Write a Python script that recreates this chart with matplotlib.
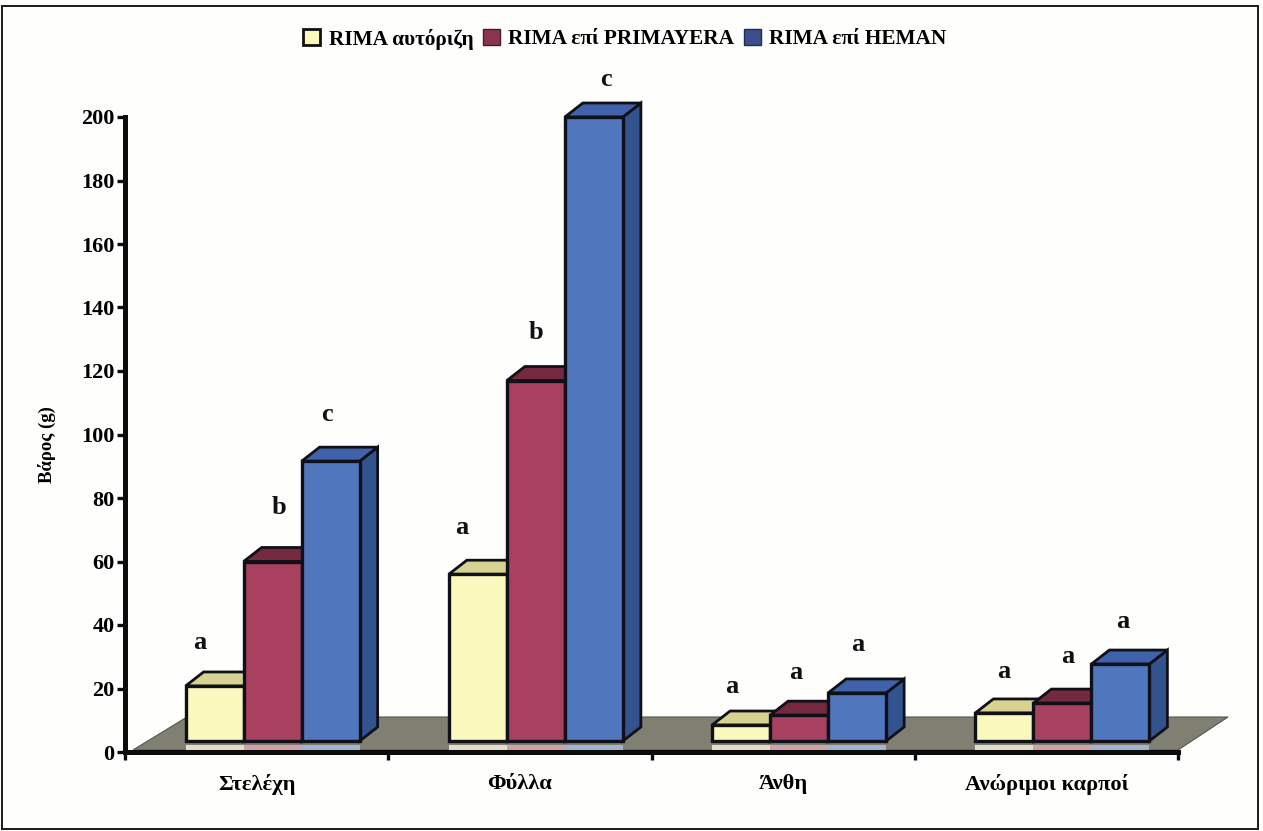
import matplotlib
matplotlib.use("Agg")
import matplotlib.pyplot as plt
from matplotlib.patches import Polygon, Rectangle, Patch

plt.rcParams['font.family'] = ['Liberation Serif', 'DejaVu Serif']
plt.rcParams['font.weight'] = 'bold'

categories = ['Στελέχη', 'Φύλλα', 'Άνθη', 'Ανώριμοι καρποί']
series_names = ['RIMA αυτόριζη', 'RIMA επί PRIMAYERA', 'RIMA επί HEMAN']
autoriza = [20.8, 56, 8.5, 12.3]
primavera = [60, 117, 11.6, 15.4]
heman = [91.6, 200, 18.6, 27.7]
letters_autoriza = ['a', 'a', 'a', 'a']
letters_primavera = ['b', 'b', 'a', 'a']
letters_heman = ['c', 'c', 'a', 'a']
y_ticks = [0, 20, 40, 60, 80, 100, 120, 140, 160, 180, 200]

W, H = 1263, 831
LEFT, RIGHT, BOTTOM, TOP = 125, 1178, 752, 117
fig = plt.figure(figsize=(W / 100, H / 100), dpi=100, facecolor='#fefefd')
ax = fig.add_axes([LEFT / W, 1 - BOTTOM / H, (RIGHT - LEFT) / W, (BOTTOM - TOP) / H])
ax.set_xlim(0, 4)
ax.set_ylim(0, 200)
ax.set_facecolor('none')

# pixel to data scale, for the fake 3d depth
px_x = 4 / (RIGHT - LEFT)
px_y = 200 / (BOTTOM - TOP)

# floor
ax.add_patch(Polygon([(8 * px_x, 2 * px_y), (4, 2 * px_y), (4 + 50 * px_x, 35 * px_y), (62 * px_x, 35 * px_y)],
                     closed=True, fc='#7f7f72', ec='#55554c', lw=0.8, clip_on=False, zorder=1))

# one entry per series: front, top, side, floor reflection colours
styles = [('#fbf8bd', '#d8d292', '#c9c384', '#f6f1d8'),
          ('#a8405f', '#74293f', '#6d2640', '#dca9b6'),
          ('#5076bd', '#3f62ab', '#33538f', '#a9bde0')]
values = [autoriza, primavera, heman]
bar_w = 58 * px_x
base = 11 * px_y
dx = 18 * px_x
dy = 14 * px_y
shift = 16 * px_x


def box(x, top, colors, z):
    front, cap, side, glow = colors
    ax.add_patch(Polygon([(x + bar_w, base), (x + bar_w + dx, base + dy),
                          (x + bar_w + dx, top + dy), (x + bar_w, top)],
                         closed=True, fc=side, ec='#101018', lw=2, clip_on=False, zorder=z))
    ax.add_patch(Polygon([(x, top), (x + dx, top + dy), (x + bar_w + dx, top + dy), (x + bar_w, top)],
                         closed=True, fc=cap, ec='#101018', lw=2, clip_on=False, zorder=z))
    ax.bar(x, top - base, bar_w, bottom=base, align='edge', color=front, edgecolor='#101018',
           linewidth=2.4, clip_on=False, zorder=z + 0.5)
    # reflection along the front of the floor
    ax.add_patch(Rectangle((x, 2.5 * px_y), bar_w, 5 * px_y, fc=glow, ec='none', alpha=0.85,
                           clip_on=False, zorder=2))


for i in range(len(categories)):
    start = i + 0.5 - 1.5 * bar_w + shift
    for s in range(3):
        box(start + s * bar_w, values[s][i], styles[s], 3 + s)

# significance letters, pixel offsets from the top centre of each bar
letter_sets = [letters_autoriza, letters_primavera, letters_heman]
offsets = [[(-15, 43), (-16, 47), (-9, 39), (-1, 41)],
           [(6, 54), (0, 48), (-3, 43), (5, 47)],
           [(-4, 47), (12, 37), (1, 48), (2, 43)]]
for s in range(3):
    for i in range(len(categories)):
        xc = i + 0.5 - 1.5 * bar_w + shift + (s + 0.5) * bar_w
        ax.annotate(letter_sets[s][i], (xc, values[s][i]), xytext=offsets[s][i], textcoords='offset pixels',
                    ha='center', va='center', fontsize=19, color='#111111', zorder=10, annotation_clip=False)

# axes
for name in ['top', 'right']:
    ax.spines[name].set_visible(False)
for name in ['left', 'bottom']:
    ax.spines[name].set_linewidth(3.6)
    ax.spines[name].set_color('#0c0c0c')
    ax.spines[name].set_zorder(8)
ax.set_yticks(y_ticks)
ax.tick_params(axis='y', length=5.5, width=2.4, pad=2, labelsize=16, color='#0c0c0c')
ax.set_xticks([0, 1, 2, 3, 4])
ax.set_xticklabels([])
ax.set_xticks([0.5, 1.5, 2.5, 3.5], minor=True)
ax.set_xticklabels(categories, minor=True, fontsize=16.2)
ax.tick_params(axis='x', which='major', length=6, width=2.4, color='#0c0c0c')
ax.tick_params(axis='x', which='minor', length=0, pad=15.5)
for t in ax.get_yticklabels():
    t.set_fontweight('bold')
ax.set_ylabel('Βάρος (g)', fontsize=13.5, fontweight='bold', labelpad=0)
ax.yaxis.set_label_coords((56 - LEFT) / (RIGHT - LEFT), (BOTTOM - 445) / (BOTTOM - TOP))

# legend
handles = [Patch(fc='#fbf8bd', ec='#111111', lw=2),
           Patch(fc='#8c3350', ec='#4a1a2a', lw=1),
           Patch(fc='#3c4f8c', ec='#222a55', lw=1)]
leg = fig.legend(handles, series_names, ncol=3, loc='center', bbox_to_anchor=(625 / W, 1 - 39 / H), frameon=False,
                 prop={'family': 'Liberation Serif', 'weight': 'bold', 'size': 15.3},
                 handlelength=0.8, handleheight=0.8, handletextpad=0.4, columnspacing=0.45)

# outer frame
fig.add_artist(Rectangle((2.5 / W, 1 - 829 / H), 1255 / W, 823 / H, transform=fig.transFigure,
                         fc='none', ec='#1a1a1a', lw=1.4))

fig.savefig('out.png', dpi=100, facecolor=fig.get_facecolor())
